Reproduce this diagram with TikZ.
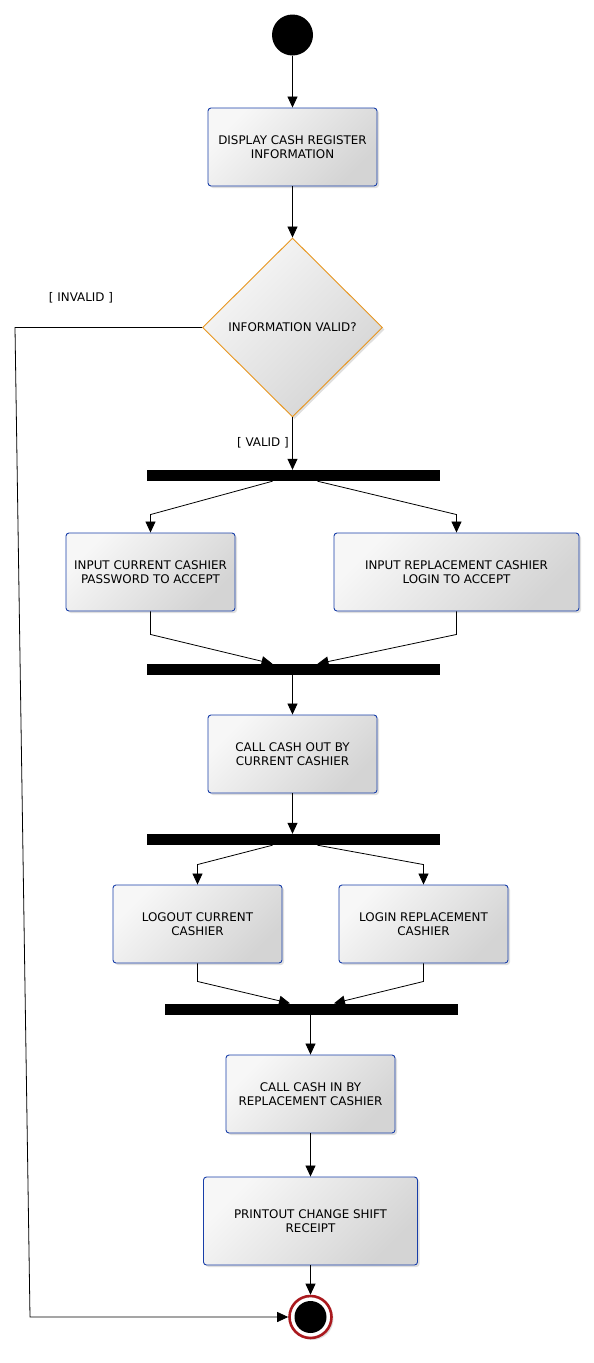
\documentclass[tikz,border=0pt]{standalone}
\usepackage{fontspec}
\setmainfont{DejaVu Sans}
\usetikzlibrary{shapes.geometric,arrows.meta,shadows,calc}
\definecolor{actb}{RGB}{24,62,168}
\definecolor{decb}{RGB}{232,150,30}
\definecolor{endr}{RGB}{170,25,30}
\begin{document}
\begin{tikzpicture}[x=1pt,y=1pt, font=\fontsize{11.9}{14.3}\selectfont,
  shade/.style={top color=black!3, bottom color=black!17, shading angle=45},
  act/.style={draw=actb, line width=0.9pt, rounded corners=3pt, shade, align=center,
    minimum height=78pt, inner sep=0pt,
    drop shadow={opacity=0.25, shadow xshift=2pt, shadow yshift=-2pt}},
  bar/.style={fill=black, minimum width=293pt, minimum height=11pt, inner sep=0pt},
  arr/.style={-{Triangle[width=10pt,length=11pt]}, line width=0.8pt},
  lbl/.style={inner sep=0pt}]
\useasboundingbox (0,0) rectangle (594,-1363);

\node[circle, fill=black, minimum size=41pt, inner sep=0pt] (start) at (292.5,-35) {};
\node[act, minimum width=169pt] (box1) at (292.5,-147) {DISPLAY CASH REGISTER\\INFORMATION};
\node[diamond, draw=decb, line width=0.9pt, shade, minimum width=180pt, minimum height=179pt, inner sep=0pt,
  drop shadow={opacity=0.25, shadow xshift=2pt, shadow yshift=-2pt}] (dec) at (292.5,-327.5) {INFORMATION VALID?};
\node[lbl] (linv) at (81,-298) {[ INVALID ]};
\node[lbl] (lval) at (263,-443) {[ VALID ]};

\node[bar] (bar1) at (293.5,-475.5) {};
\node[act, minimum width=169pt] (box2) at (150.5,-572) {INPUT CURRENT CASHIER\\PASSWORD TO ACCEPT};
\node[act, minimum width=245pt] (box3) at (456.5,-572) {INPUT REPLACEMENT CASHIER\\LOGIN TO ACCEPT};
\node[bar] (bar2) at (293.5,-669.5) {};
\node[act, minimum width=169pt] (box4) at (292.5,-754) {CALL CASH OUT BY\\CURRENT CASHIER};
\node[bar] (bar3) at (293.5,-839.5) {};
\node[act, minimum width=169pt] (box5) at (197.5,-924) {LOGOUT CURRENT\\CASHIER};
\node[act, minimum width=169pt] (box6) at (423.5,-924) {LOGIN REPLACEMENT\\CASHIER};
\node[bar] (bar4) at (311,-1009) {};
\node[act, minimum width=169pt] (box7) at (310.5,-1094) {CALL CASH IN BY\\REPLACEMENT CASHIER};
\node[act, minimum width=214pt, minimum height=88pt] (box8) at (310.5,-1221) {PRINTOUT CHANGE SHIFT\\RECEIPT};
\node[circle, draw=endr, line width=2.6pt, fill=white, minimum size=42pt, inner sep=0pt,
  drop shadow={opacity=0.25, shadow xshift=2pt, shadow yshift=-2pt}] (stop) at (310.5,-1317) {};
\node[circle, fill=black, minimum size=32pt, inner sep=0pt] (stopin) at (stop) {};

\coordinate (c1) at (15,-327.5);
\coordinate (c2) at (30,-1317);

\draw[arr] (start) -- (box1);
\draw[arr] (box1) -- (dec);
\draw[arr] (dec.west) -- (c1) -- (c2) -- (stop.west);
\draw[arr] (dec.south) -- (dec.south |- bar1.north);

\draw[arr] ($(bar1.south)+(-21,0)$) -- ($(box2.north)+(0,18)$) -- (box2.north);
\draw[arr] ($(bar1.south)+(24,0)$) -- ($(box3.north)+(0,18)$) -- (box3.north);
\draw[arr] (box2.south) -- ($(box2.south)+(0,-23)$) -- ($(bar2.north)+(-21,0)$);
\draw[arr] (box3.south) -- ($(box3.south)+(0,-23)$) -- ($(bar2.north)+(24,0)$);

\draw[arr] (bar2.south -| box4.north) -- (box4.north);
\draw[arr] (box4.south) -- (box4.south |- bar3.north);

\draw[arr] ($(bar3.south)+(-21,0)$) -- ($(box5.north)+(0,20)$) -- (box5.north);
\draw[arr] ($(bar3.south)+(24,0)$) -- ($(box6.north)+(0,20)$) -- (box6.north);
\draw[arr] (box5.south) -- ($(box5.south)+(0,-18)$) -- ($(bar4.north)+(-21,0)$);
\draw[arr] (box6.south) -- ($(box6.south)+(0,-18)$) -- ($(bar4.north)+(23,0)$);

\draw[arr] (bar4.south -| box7.north) -- (box7.north);
\draw[arr] (box7.south) -- (box8.north);
\draw[arr] (box8.south) -- (stop.north);
\end{tikzpicture}
\end{document}
